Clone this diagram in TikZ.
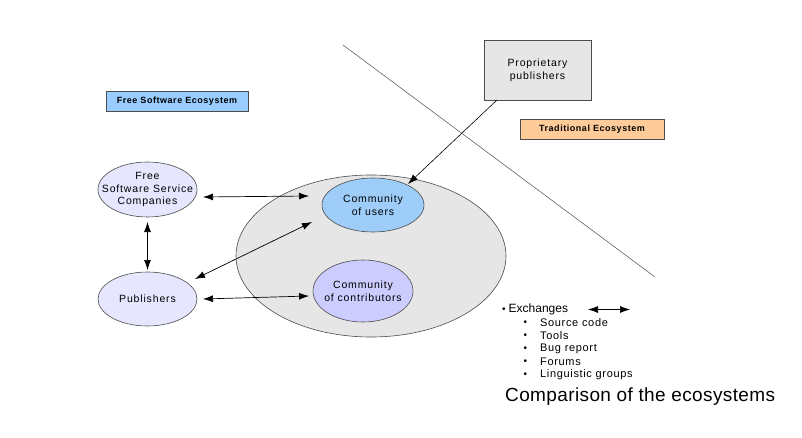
\documentclass[tikz,border=0pt]{standalone}
\usepackage{fontspec}
\setmainfont{Liberation Sans}
\newfontfamily\spaced[LetterSpace=8]{Liberation Sans}
\newfontfamily\lblfont[LetterSpace=6]{Liberation Sans Bold}
\newfontfamily\spacedlist[LetterSpace=6]{Liberation Sans}
\newfontfamily\spacedcap[LetterSpace=2]{Liberation Sans}
\usetikzlibrary{arrows.meta,shapes.geometric}
\definecolor{lblue}{HTML}{99CCFF}
\definecolor{peach}{HTML}{FFCC99}
\definecolor{lgray}{HTML}{E6E6E6}
\definecolor{ublue}{HTML}{9DCDF8}
\definecolor{cviolet}{HTML}{CCCCFF}
\definecolor{pviolet}{HTML}{E6E6FF}
\begin{document}
\begin{tikzpicture}[x=1pt,y=-1pt,
  lbl/.style={draw=black!70,line width=0.6pt,minimum height=20pt,inner sep=0pt,font=\fontsize{9}{10}\lblfont},
  ell/.style={ellipse,draw=black!70,line width=0.6pt,inner sep=0pt},
  etext/.style={label={[align=center,inner sep=0pt,font=\fontsize{10.5}{12.5}\spaced]center:#1}},
  arr/.style={line width=0.7pt,{Latex[length=10pt,width=7pt]}-{Latex[length=10pt,width=7pt]}},
  sarr/.style={line width=0.6pt,-{Latex[length=10pt,width=7pt]}},
  item/.style={anchor=west,inner sep=0pt,font=\fontsize{11}{12}\spacedlist}]
\useasboundingbox (0,0) rectangle (802,438);
% dividing line
\coordinate (d1) at (343,45);
\coordinate (d2) at (655,277);
\draw[line width=0.5pt,black!70] (d1) -- (d2);
% labels
\node[lbl,fill=lblue,minimum width=142pt] (fse) at (177,101) {Free Software Ecosystem};
\node[lbl,fill=peach,minimum width=144pt] (te) at (592,129) {Traditional Ecosystem};
\node[draw=black!70,line width=0.6pt,fill=lgray,minimum width=107pt,minimum height=60pt,align=center,font=\fontsize{10.5}{13}\spaced] (prop) at (537.5,70) {Proprietary\\publishers};
% big ellipse
\node[ell,fill=lgray,minimum width=270pt,minimum height=162pt] (big) at (371,256) {};
\node[ell,fill=ublue,minimum width=102pt,minimum height=54pt,etext={Community\\of users}] (users) at (373,205) {};
\node[ell,fill=cviolet,minimum width=100pt,minimum height=62pt,etext={Community\\of contributors}] (contrib) at (363,291) {};
\node[ell,fill=pviolet,minimum width=99pt,minimum height=55pt,etext={Free\\Software Service\\Companies}] (fssc) at (147.5,189.5) {};
\node[ell,fill=pviolet,minimum width=99pt,minimum height=54pt,etext={Publishers}] (pub) at (147.5,299) {};
% arrow ends
\coordinate (a1) at (203,197);
\coordinate (b1) at (309,196);
\coordinate (a3) at (195,279);
\coordinate (b3) at (312,222);
\coordinate (a4) at (203,299);
\coordinate (b4) at (309,296);
\coordinate (p1) at (497,100);
\coordinate (p2) at (408,184);
\draw[arr] (a1) -- (b1);
\draw[arr] (fssc.south |- 0,222) -- (pub.north |- 0,270);
\draw[arr] (a3) -- (b3);
\draw[arr] (a4) -- (b4);
\draw[sarr] (p1) -- (p2);
% exchanges
\node[item,font=\fontsize{12}{14}\selectfont] (ex) at (502,309) {{\fontsize{10}{10}\selectfont•}\kern3pt Exchanges};
\coordinate (e1) at (588,309.5);
\coordinate (e2) at (630,309.5);
\draw[arr] (e1) -- (e2);
\foreach \t [count=\i] in {Source code,Tools,Bug report,Forums,Linguistic groups}{
  \node[item] (it\i) at (540,{310+13*\i}) {\t};
  \node[item,font=\fontsize{10}{10}\selectfont] (bu\i) at (523.5,{310+13*\i}) {•};
}
\node[anchor=west,inner sep=0pt,font=\fontsize{19}{21}\spacedcap] (cap) at (505,397) {Comparison of the ecosystems};
\end{tikzpicture}
\end{document}
